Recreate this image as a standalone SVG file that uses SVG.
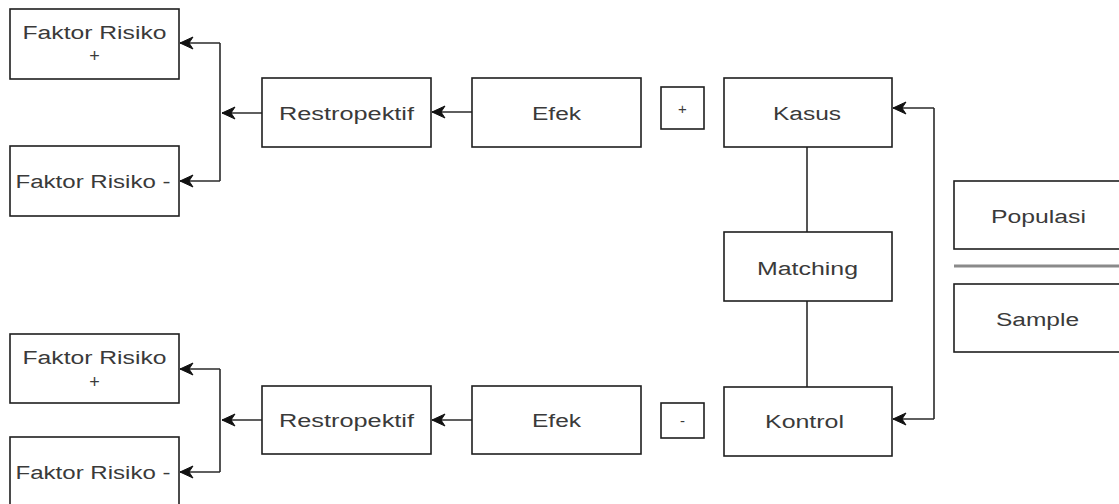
<svg xmlns="http://www.w3.org/2000/svg" width="1119" height="504" viewBox="0 0 1119 504">
<style>
  .box { fill: #ffffff; stroke: #1f1f1f; stroke-width: 1.6; }
  .t { font-family: "Liberation Sans", Arial, sans-serif; font-size: 18px; fill: #3a3a3a; text-anchor: middle; }
  .s { font-family: "Liberation Sans", Arial, sans-serif; font-size: 15px; fill: #3a3a3a; text-anchor: middle; }
  .edge { fill: none; stroke: #2a2a2a; stroke-width: 1.6; }
  .plain { fill: none; stroke: #555555; stroke-width: 2; }
</style>
<defs>
  <marker id="arr" markerUnits="userSpaceOnUse" markerWidth="16" markerHeight="14" viewBox="-14 -7 16 14" refX="0" refY="0" orient="auto">
    <path d="M0,0 L-13,-6 L-9,0 L-13,6 Z" fill="#111111" stroke="#111111" stroke-width="1"/>
  </marker>
</defs>
<rect width="1119" height="504" fill="#ffffff"/>

<g id="connectors">
  <path class="edge" d="M262,113 L222,113" marker-end="url(#arr)"/>
  <path class="edge" d="M220,43 L220,181"/>
  <path class="edge" d="M220,43 L180,43" marker-end="url(#arr)"/>
  <path class="edge" d="M220,181 L180,181" marker-end="url(#arr)"/>
  <path class="edge" d="M472,112 L432,112" marker-end="url(#arr)"/>
  <path class="edge" d="M262,420 L222,420" marker-end="url(#arr)"/>
  <path class="edge" d="M220,369 L220,472"/>
  <path class="edge" d="M220,369 L180,369" marker-end="url(#arr)"/>
  <path class="edge" d="M220,472 L180,472" marker-end="url(#arr)"/>
  <path class="edge" d="M472,420 L432,420" marker-end="url(#arr)"/>
  <path class="plain" d="M807,147 L807,232"/>
  <path class="plain" d="M807,301 L807,387"/>
  <path class="edge" d="M934,108 L934,419"/>
  <path class="edge" d="M934,108 L893,108" marker-end="url(#arr)"/>
  <path class="edge" d="M934,419 L893,419" marker-end="url(#arr)"/>
  <path d="M954,266 L1125,266" stroke="#8a8a8a" stroke-width="3" fill="none"/>
</g>

<g id="fr-plus-top">
  <rect class="box" x="10" y="9" width="169" height="70"/>
  <text class="t" x="94.5" y="39" textLength="144" lengthAdjust="spacingAndGlyphs">Faktor Risiko</text>
  <text class="t" x="94.5" y="62">+</text>
</g>
<g id="fr-minus-top">
  <rect class="box" x="10" y="146" width="169" height="70"/>
  <text class="t" x="93" y="188" textLength="155" lengthAdjust="spacingAndGlyphs">Faktor Risiko -</text>
</g>
<g id="restro-top">
  <rect class="box" x="262" y="78" width="169" height="69"/>
  <text class="t" x="346.5" y="120" textLength="135" lengthAdjust="spacingAndGlyphs">Restropektif</text>
</g>
<g id="efek-top">
  <rect class="box" x="472" y="78" width="169" height="69"/>
  <text class="t" x="556.5" y="120" textLength="49" lengthAdjust="spacingAndGlyphs">Efek</text>
</g>
<g id="plus-sign">
  <rect class="box" x="661" y="87" width="43" height="42"/>
  <text class="s" x="682.5" y="114">+</text>
</g>
<g id="kasus">
  <rect class="box" x="724" y="78" width="168" height="69"/>
  <text class="t" x="807" y="120" textLength="68" lengthAdjust="spacingAndGlyphs">Kasus</text>
</g>
<g id="matching">
  <rect class="box" x="724" y="232" width="168" height="69"/>
  <text class="t" x="807.5" y="275" textLength="101" lengthAdjust="spacingAndGlyphs">Matching</text>
</g>
<g id="kontrol">
  <rect class="box" x="724" y="387" width="168" height="69"/>
  <text class="t" x="804.5" y="428" textLength="79" lengthAdjust="spacingAndGlyphs">Kontrol</text>
</g>
<g id="populasi">
  <rect class="box" x="954" y="181" width="175" height="68"/>
  <text class="t" x="1038.5" y="223" textLength="95" lengthAdjust="spacingAndGlyphs">Populasi</text>
</g>
<g id="sample">
  <rect class="box" x="954" y="284" width="175" height="68"/>
  <text class="t" x="1037.5" y="326" textLength="83" lengthAdjust="spacingAndGlyphs">Sample</text>
</g>

<g id="fr-plus-bottom">
  <rect class="box" x="10" y="334" width="169" height="69"/>
  <text class="t" x="94.5" y="364" textLength="144" lengthAdjust="spacingAndGlyphs">Faktor Risiko</text>
  <text class="t" x="94.5" y="388">+</text>
</g>
<g id="fr-minus-bottom">
  <rect class="box" x="10" y="437" width="169" height="72"/>
  <text class="t" x="93" y="479" textLength="155" lengthAdjust="spacingAndGlyphs">Faktor Risiko -</text>
</g>
<g id="restro-bottom">
  <rect class="box" x="262" y="386" width="169" height="68"/>
  <text class="t" x="346.5" y="427" textLength="135" lengthAdjust="spacingAndGlyphs">Restropektif</text>
</g>
<g id="efek-bottom">
  <rect class="box" x="472" y="386" width="169" height="68"/>
  <text class="t" x="556.5" y="427" textLength="49" lengthAdjust="spacingAndGlyphs">Efek</text>
</g>
<g id="minus-sign">
  <rect class="box" x="661" y="403" width="43" height="35"/>
  <text class="s" x="682.5" y="426">-</text>
</g>
</svg>
